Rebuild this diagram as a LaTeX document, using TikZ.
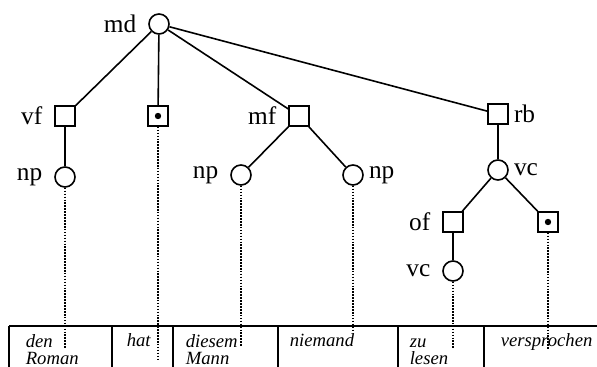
\documentclass[tikz,border=0pt]{standalone}
\usepackage{fontspec}
\setmainfont{Liberation Serif}
\usetikzlibrary{shapes}

\begin{document}
\begin{tikzpicture}[x=0.75pt,y=-0.75pt,line width=1.2pt,
                    every label/.style={font=\fontsize{19}{21}\selectfont}]
  \tikzstyle{cat}=[circle,draw=black,fill=white,minimum size=15pt,inner sep=0pt]
  \tikzstyle{field}=[rectangle,draw=black,fill=white,minimum size=15pt,inner sep=0pt]
  \tikzstyle{head}=[field,path picture={\fill[black] (path picture bounding box.center) circle (2.4pt);}]
  \tikzstyle{word}=[anchor=base west,inner sep=0pt,align=left,
                    font=\fontsize{14}{12.75}\selectfont\itshape]
  \tikzstyle{proj}=[densely dotted]
  \tikzstyle{rule}=[line width=1.6pt]

  \useasboundingbox (0,0) rectangle (597,367);

  % tree
  \node[cat,label={[label distance=5pt]left:md}]   (md)  at (159,24)  {};
  \node[field,label={[label distance=5pt]left:vf}] (vf)  at (65,116)  {};
  \node[head]                                      (hat) at (158,116) {};
  \node[field,label={[label distance=5pt]left:mf}] (mf)  at (299,116) {};
  \node[field,label=right:rb]                      (rb)  at (498,114) {};
  \node[cat,label={[label distance=5pt]left:np}]   (npa) at (65,177)  {};
  \node[cat,label={[label distance=5pt]left:np}]   (npb) at (241,175) {};
  \node[cat,label=right:np]                        (npc) at (353,175) {};
  \node[cat,label=right:vc]                        (vca) at (498,170) {};
  \node[field,label={[label distance=5pt]left:of}] (of)  at (453,222) {};
  \node[head]                                      (vsp) at (548,222) {};
  \node[cat,label={[label distance=5pt]left:vc}]   (vcb) at (453,271) {};

  \path (md) edge (vf)
        (md) edge (hat)
        (md) edge (mf)
        (md) edge (rb)
        (vf) edge (npa)
        (mf) edge (npb)
        (mf) edge (npc)
        (rb) edge (vca)
        (vca) edge (of)
        (vca) edge (vsp)
        (of) edge (vcb);

  % word table
  \draw[rule] (9,326) -- (597,326);
  \foreach \x in {9,112,173,278,398,484}
    \draw[rule] (\x,326) -- (\x,367);

  \node[word] (w1) at (25,364)  {den\\Roman};
  \node[word] (w2) at (126,347) {hat};
  \node[word] (w3) at (185,364) {diesem\\Mann};
  \node[word] (w4) at (289,347) {niemand};
  \node[word] (w5) at (409,364) {zu\\lesen};
  \node[word] (w6) at (500,347) {versprochen};

  % projections
  \coordinate (e1) at (65,349);
  \coordinate (e2) at (158,360);
  \coordinate (e3) at (241,347);
  \coordinate (e4) at (353,332);
  \coordinate (e5) at (453,348);
  \coordinate (e6) at (548,350);
  \draw[proj] (npa) -- (e1);
  \draw[proj] (hat) -- (e2);
  \draw[proj] (npb) -- (e3);
  \draw[proj] (npc) -- (e4);
  \draw[proj] (vcb) -- (e5);
  \draw[proj] (vsp) -- (e6);
\end{tikzpicture}
\end{document}
